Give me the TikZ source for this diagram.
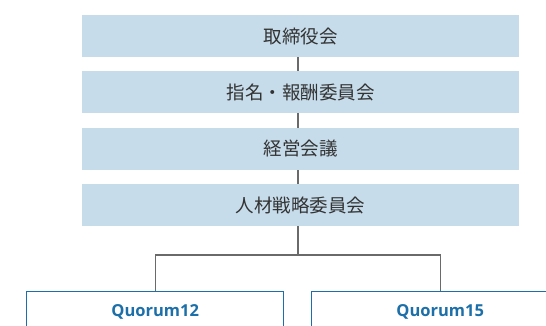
\documentclass[tikz,border=0pt]{standalone}
\usepackage{fontspec}
\usepackage{xcolor}
\newfontfamily\jpfont{Noto Sans CJK JP}
\newfontfamily\latinfont{Open Sans}
\definecolor{organfill}{HTML}{C6DCEA}
\definecolor{linkgray}{HTML}{6A6A6A}
\definecolor{quorumblue}{HTML}{1C6FA8}
\definecolor{textgray}{HTML}{333333}

\begin{document}
\begin{tikzpicture}[x=1pt,y=-1pt,
  organ/.style={fill=organfill,minimum width=437pt,minimum height=42pt,inner sep=0pt,
    font=\jpfont\fontsize{18.5}{20}\selectfont,text=textgray},
  quorum/.style={draw=quorumblue,line width=1pt,minimum width=256.7pt,minimum height=40pt,inner sep=0pt,
    font=\latinfont\bfseries\fontsize{16.5}{18}\selectfont,text=quorumblue},
  link/.style={draw=linkgray,line width=1.3pt}]
\useasboundingbox (0,0) rectangle (546,325);
\clip (0,0) rectangle (546,325);
% committees, top to bottom
\node[organ] (board) at (300.5,36) {取締役会};
\node[organ] (nomination) at (300.5,92) {指名・報酬委員会};
\node[organ] (management) at (300.5,149) {経営会議};
\node[organ] (talent) at (300.5,205) {人材戦略委員会};
% groups below
\node[quorum] (q12) at (155.15,311.8) {Quorum12};
\node[quorum] (q15) at (440.15,311.8) {Quorum15};
% vertical links (slightly left of centre)
\foreach \a/\b in {board/nomination,nomination/management,management/talent}
\draw[link] ([xshift=-2.5pt]\a.south) -- ([xshift=-2.5pt]\b.north);
\coordinate (fork) at ([xshift=-2.5pt,yshift=-28.8pt]talent.south);
\draw[link] ([xshift=-2.5pt]talent.south) -- (fork);
\draw[link] (q12.north) |- (fork) -| (q15.north);
\end{tikzpicture}
\end{document}
